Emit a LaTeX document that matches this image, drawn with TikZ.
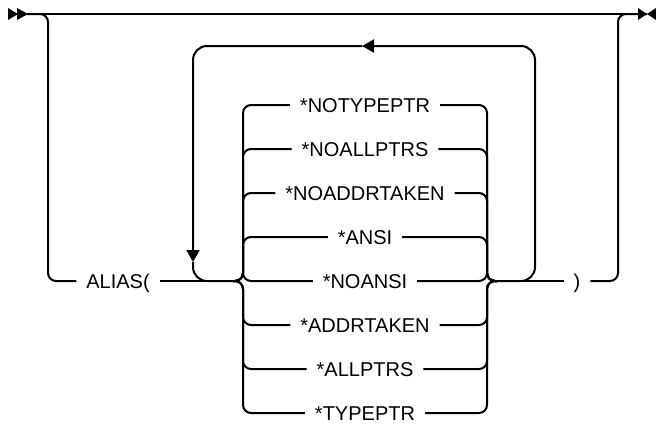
\documentclass[tikz,border=0pt]{standalone}
\usepackage{fontspec}
\setmainfont{Liberation Sans}
\usetikzlibrary{arrows.meta}

\tikzset{
  rail/.style={line width=1pt, rounded corners=4pt},
  repline/.style={rail, rounded corners=7pt},
  kw/.style={font=\fontsize{10}{12}\selectfont, inner xsep=5pt, inner ysep=0pt,
    outer sep=0pt, text height=7.2pt, text depth=0pt},
  head/.style={-{Triangle[length=6pt,width=6.5pt]}}
}

\begin{document}
\begin{tikzpicture}[x=0.5pt,y=-0.5pt]
  \useasboundingbox (0,0) rectangle (656,424);
  % entry and exit marks
  \fill (8,8) -- (18,14) -- (8,20) -- cycle;
  \fill (17,8) -- (28,14) -- (17,20) -- cycle;
  \fill (638,8) -- (647,14) -- (638,20) -- cycle;
  \fill (656,8) -- (647,14) -- (656,20) -- cycle;
  \coordinate (in) at (27,14);
  \coordinate (out) at (647,14);
  \draw[rail] (in) -- (out);
  % ALIAS( ... )
  \node[kw] (alias) at (118,281) {ALIAS(};
  \node[kw] (close) at (577,281) {)};
  \coordinate (lbr) at (233,281);
  \coordinate (rbr) at (497,281);
  \draw[rail] (in) -| (48,281) -- (alias.west);
  \draw[rail] (alias.east) -- (lbr);
  \draw[rail] (rbr) -- (close.west);
  \draw[rail] (close.east) -| (618,14) -- (out);
  % choices
  \foreach \lab [count=\i] in {*NOTYPEPTR,*NOALLPTRS,*NOADDRTAKEN,*ANSI,
      *NOANSI,*ADDRTAKEN,*ALLPTRS,*TYPEPTR} {
    \node[kw] (opt\i) at (365,61+44*\i) {\lab};
    \draw[rail] (lbr) -- (243,281) |- (opt\i.west);
    \draw[rail] (opt\i.east) -| (487,281) -- (rbr);
  }
  % repeat
  \coordinate (lpR) at (535,46);
  \coordinate (lpTip) at (362,46);
  \coordinate (lpDown) at (193,262);
  \draw[repline,head] (rbr) -| (lpR) -- (lpTip);
  \draw[repline,head] (lpTip) -| (lpDown);
  \draw[repline] (lpDown) |- (lbr);
\end{tikzpicture}
\end{document}
